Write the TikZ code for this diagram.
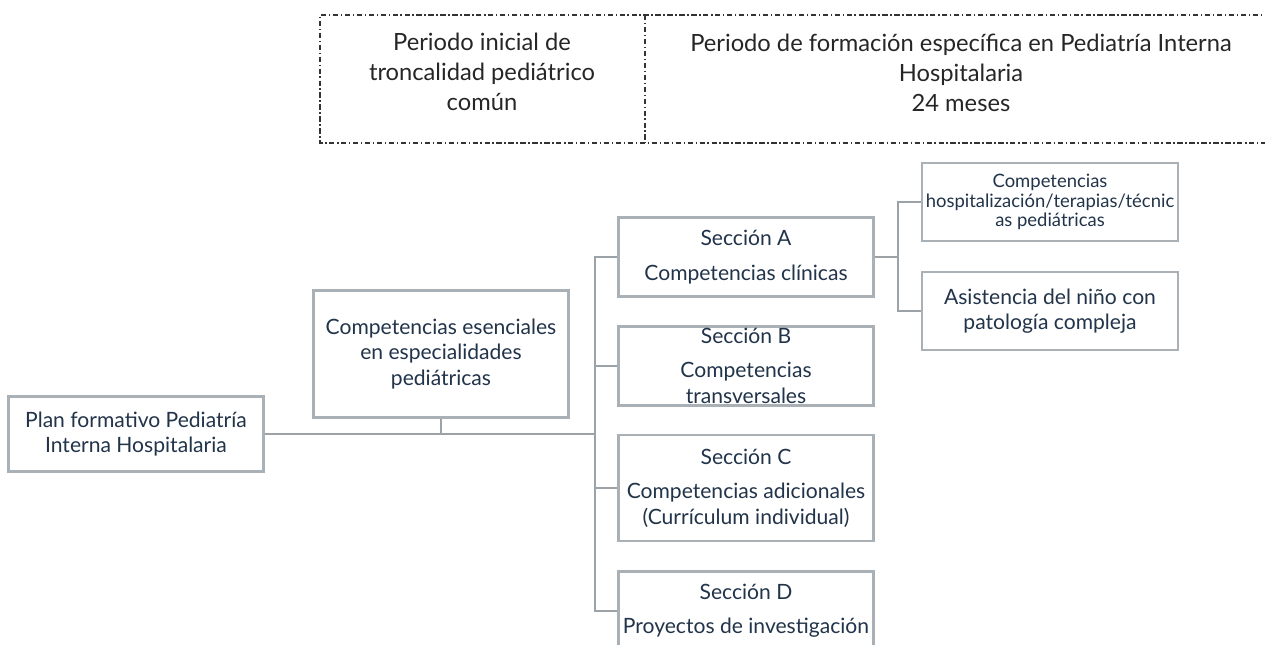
\documentclass[tikz,border=0pt]{standalone}
\usepackage{fontspec}
\setmainfont{Lato}
\definecolor{boxgray}{HTML}{A9B0B6}
\definecolor{linegray}{HTML}{9BA2A8}
\definecolor{navy}{HTML}{22344A}
\begin{document}
\begin{tikzpicture}[x = 0.02cm, y = -0.02cm,
    box/.style = {draw = boxgray, line width = 1.6pt, fill = white, align = center,
        text = navy, font = \fontsize{12}{14.5}\selectfont, inner sep = 0pt,
        minimum width = 5.1cm, minimum height = 1.58cm},
    link/.style = {draw = linegray, line width = 1.6pt},
    period/.style = {align = center, text = black!85, font = \fontsize{13.5}{17}\selectfont},
    frame/.style = {black!80, line width = 0.8pt,
        dash pattern = on 3pt off 1.5pt on 0.8pt off 1.5pt}]
    \useasboundingbox (0, 0) rectangle (1265, 645);
    \clip (0, 0) rectangle (1265, 645);
    % periodos
    \draw [frame] (1270, 15) -- (320, 15) -- (320, 143) -- (1270, 143);
    \draw [frame] (645, 15) -- (645, 143);
    \node [period] (inicial) at (482, 72) {Periodo inicial de\\troncalidad pediátrico\\común};
    \node [period] (especifica) at (961, 73) {Periodo de formación específica en Pediatría Interna\\Hospitalaria\\24 meses};
    % cajas
    \node [box, minimum height = 1.5cm] (plan) at (136, 434) {Plan formativo Pediatría\\Interna Hospitalaria};
    \node [box, minimum height = 2.54cm] (esen) at (441, 354) {Competencias esenciales\\en especialidades\\pediátricas};
    \node [box] (secA) at (746, 257) {Sección A\\[5pt]Competencias clínicas};
    \node [box] (secB) at (746, 366) {Sección B\\[5pt]Competencias\\transversales};
    \node [box, minimum height = 2.12cm] (secC) at (746, 488) {Sección C\\[5pt]Competencias adicionales\\(Currículum individual)};
    \node [box] (secD) at (746, 611) {Sección D\\[5pt]Proyectos de investigación};
    \node [box, minimum width = 5.12cm, minimum height = 1.56cm, font = \fontsize{10.5}{11}\selectfont] (hosp) at (1050, 202) {Competencias\\hospitalización/terapias/técnic\\as pediátricas};
    \node [box, minimum width = 5.12cm, minimum height = 1.56cm] (asist) at (1050, 311) {Asistencia del niño con\\patología compleja};
    % conexiones
    \coordinate (trunk) at (595, 434);
    \coordinate (fork) at (898, 257);
    \draw [link] (plan.east) -- (trunk);
    \draw [link] (esen.south) -- (esen.south |- trunk);
    \draw [link] (secA.west) -- (secA.west -| trunk) -- (secD.west -| trunk) -- (secD.west);
    \foreach \s in {secB, secC}
        \draw [link] (\s.west) -- (\s.west -| trunk);
    \draw [link] (secA.east) -- (fork);
    \draw [link] (hosp.west) -- (hosp.west -| fork) -- (asist.west -| fork) -- (asist.west);
\end{tikzpicture}
\end{document}
